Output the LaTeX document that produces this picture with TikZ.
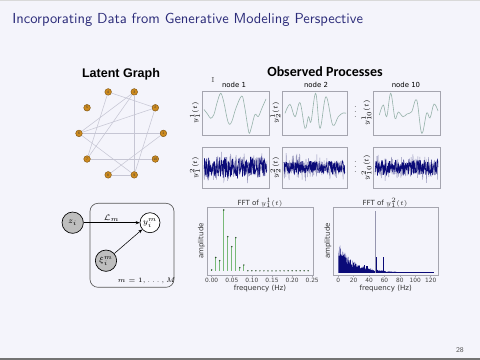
\documentclass[tikz,border=0pt]{standalone}
\usepackage{fontspec}
\usepackage{amsmath}
\newfontfamily\djv{DejaVu Sans}
\newfontfamily\lib{Liberation Sans}
\newfontfamily\carl{Carlito}
\usetikzlibrary{arrows.meta}
\definecolor{bg}{RGB}{244,244,251}
\definecolor{ttl}{RGB}{44,44,122}
\definecolor{gnode}{RGB}{205,138,30}
\definecolor{gnodeb}{RGB}{120,80,15}
\definecolor{gedge}{RGB}{198,198,212}
\definecolor{sig}{RGB}{150,178,170}
\definecolor{navy}{RGB}{10,10,120}
\definecolor{lnoise}{RGB}{150,150,188}
\definecolor{axc}{RGB}{165,165,175}
\definecolor{stemc}{RGB}{120,185,120}
\definecolor{mkc}{RGB}{40,80,40}
\definecolor{platef}{RGB}{190,190,190}
\definecolor{spk}{RGB}{150,150,175}
\begin{document}
\begin{tikzpicture}[x=0.75pt,y=-0.75pt,
 gn/.style={circle,fill=gnode,draw=gnodeb,line width=0.3pt,inner sep=0pt,minimum size=5pt,font=\fontsize{2.6}{2.6}\selectfont\lib,text=black!75},
 ge/.style={draw=gedge,line width=0.4pt},
 pbox/.style={draw=axc,line width=0.4pt},
 sigl/.style={draw=sig,line width=0.45pt},
 ylab/.style={rotate=90,font=\fontsize{5.2}{6}\selectfont,inner sep=0pt},
 toplab/.style={font=\fontsize{5.2}{6}\selectfont\djv,inner sep=0pt},
 ticklab/.style={font=\fontsize{4.4}{5}\selectfont\djv,inner sep=0pt,text=black!75},
 axlab/.style={font=\fontsize{5.3}{6}\selectfont\djv,inner sep=0pt,text=black!80},
 pl/.style={circle,draw=black,line width=0.5pt,minimum size=16pt,inner sep=0pt,font=\fontsize{6.3}{7}\selectfont},
 arr/.style={-{Stealth[length=3pt,width=2.4pt]},line width=0.4pt},
 ]
\useasboundingbox (0,0) rectangle (480,360);
\fill[bg] (0,0) rectangle (480,360);
\draw[black!15,line width=0.6pt] (0,0.4) -- (480,0.4);
\fill[black!55] (0,358) rectangle (480,360);

% title
\node[anchor=base west,inner sep=0pt,text=ttl,font=\fontsize{10.9}{13}\selectfont\sffamily] (title) at (12,24) {Incorporating Data from Generative Modeling Perspective};

% ---------- Latent graph
\node[font=\fontsize{9.4}{11}\selectfont\lib\bfseries,inner sep=0pt] (lg) at (121,74) {Latent Graph};
\foreach \i/\a in {1/0,2/36,3/72,4/108,5/144,6/180,7/216,8/252,9/288,10/324}{
  \node[gn] (g\i) at ({121.2+42.2*cos(\a)},{133.4-43.6*sin(\a)}) {\i};
}
\foreach \a/\b in {4/2,3/6,3/7,3/9,4/7,2/6,2/9,6/1,6/9,7/10,8/9,1/8}{
  \draw[ge] (g\a) -- (g\b);
}

% ---------- Observed processes
\node[font=\fontsize{10.5}{12}\selectfont\carl\bfseries,inner sep=0pt] (op) at (325,72) {Observed Processes};
\node[font=\fontsize{5.5}{6}\selectfont,inner sep=0pt,text=black!70] (cur) at (213,80) {I};
\node[toplab] (n1) at (234,85) {node 1};
\node[toplab] (n2) at (316,85) {node 2};
\node[toplab] (n10) at (406,85) {node 10};

% boxes row 1
\draw[pbox] (202,91) rectangle (269,135);
\draw[pbox] (282,91) rectangle (347,135);
\draw[pbox] (373,91) rectangle (440,135);
% boxes row 2
\draw[pbox] (202,147) rectangle (269,188);
\draw[pbox] (282,147) rectangle (347,188);
\draw[pbox] (373,147) rectangle (440,188);

% y labels
\node[ylab] (l11) at (195,113) {$y_1^1(t)$};
\node[ylab] (l21) at (275.5,113) {$y_2^1(t)$};
\node[ylab] (l101) at (366.5,113) {$y_{10}^1(t)$};
\node[ylab] (l12) at (195,167.5) {$y_1^2(t)$};
\node[ylab] (l22) at (275.5,167.5) {$y_2^2(t)$};
\node[ylab] (l102) at (366.5,167.5) {$y_{10}^2(t)$};
\node[inner sep=0pt,font=\fontsize{5.5}{6}\selectfont] (d1) at (355.5,108) {$\vdots$};
\node[inner sep=0pt,font=\fontsize{5.5}{6}\selectfont] (d2) at (355.5,163) {$\vdots$};

% smooth signals
\draw[sigl] plot[smooth,tension=0.6] coordinates {(204,109.5) (207.5,114) (210.7,118.3) (214,114.3) (217,103) (220.7,93.3) (224,103) (227,118) (229.3,124.3) (232,121) (236,108) (241.7,96) (244.5,106) (247.5,125) (249.3,133.3) (251.5,127) (255,114.5) (258.3,116.5) (262,108) (266,99)};
\draw[sigl] plot[smooth,tension=0.6] coordinates {(285,113.3) (290,104.3) (295,116.7) (300,102.7) (305,128.3) (308.5,116.7) (311,121.7) (315.7,93.3) (320,128.3) (326,96.7) (332.7,125) (338.3,116.7) (343,113) (346,113.3)};
\draw[sigl] plot[smooth,tension=0.6] coordinates {(379.3,115) (383.3,105) (386.7,116.7) (390.7,93.3) (395,118.3) (398.3,112) (403,116.7) (407,114) (411.7,111.7) (416.7,100) (421.7,133.3) (426.7,113) (430,118) (434,104) (438,111)};

% noisy signals
\pgfmathsetseed{7}
\draw[lnoise,line width=0.35pt] plot[domain=204:267,samples=230] (\x,{167.5+17*rand*abs(rand)});
\draw[navy,line width=0.4pt] plot[domain=204:267,samples=230] (\x,{167.5+10.5*rand});
\pgfmathsetseed{21}
\draw[lnoise,line width=0.35pt] plot[domain=284:345,samples=220] (\x,{167.5+16*rand*abs(rand)});
\draw[navy,line width=0.4pt] plot[domain=284:345,samples=220] (\x,{167.5+6.5*rand});
\pgfmathsetseed{33}
\draw[lnoise,line width=0.35pt] plot[domain=375:438,samples=230] (\x,{167.5+16*rand*abs(rand)});
\draw[navy,line width=0.4pt] plot[domain=375:438,samples=230] (\x,{167.5+8*rand});

% ---------- Plate diagram
\draw[black!65,line width=0.5pt,rounded corners=6pt] (90,203.3) rectangle (174,287.3);
\node[pl,fill=platef] (z) at (72.7,222.7) {$z_i$};
\node[pl,fill=white,minimum size=15pt] (y) at (150,222.7) {$y_i^m$};
\node[pl,fill=platef] (xi) at (106,260.7) {$\xi_i^m$};
\draw[arr] (z) -- node[above=0.5pt,inner sep=0pt,font=\fontsize{6.5}{7}\selectfont] (lm) {$\mathcal{L}_m$} (y);
\draw[arr] (xi) -- (y);
\node[inner sep=0pt,font=\fontsize{5.4}{6}\selectfont] (mm) at (146.5,280.5) {$m=1,\ldots,M$};

% ---------- FFT 1
\draw[pbox] (207.3,207.3) rectangle (313.3,275);
\node[axlab] (t1) at (260,203) {FFT of $y_1^1(t)$};
\node[axlab,rotate=90] (a1) at (201.5,241) {amplitude};
\foreach \f/\t in {0/0.00,1/0.05,2/0.10,3/0.15,4/0.20,5/0.25}{
  \draw[axc,line width=0.35pt] ({211.7+20.1*\f},275) -- ({211.7+20.1*\f},277);
  \node[ticklab] (tk1\f) at ({211.7+20.1*\f},280.5) {\t};
}
\node[axlab] (x1) at (260,288.7) {frequency (Hz)};
\foreach \k/\h in {0/270,1/257.5,2/260.7,3/210,4/236.7,5/246.7,6/237.7,7/267.7,8/265}{
  \fill[stemc] ({211.7+4.02*\k-0.5},270.8) rectangle ({211.7+4.02*\k+0.5},\h);
  \fill[mkc] ({211.7+4.02*\k},\h) circle (0.6pt);
}
\foreach \k in {9,...,24}{
  \fill[mkc] ({211.7+4.02*\k},270.8) circle (0.55pt);
}

% ---------- FFT 2
\draw[pbox] (333.3,207.3) rectangle (438.3,274.8);
\node[axlab] (t2) at (385,203) {FFT of $y_1^2(t)$};
\node[axlab,rotate=90] (a2) at (328,241) {amplitude};
\foreach \f/\t in {0/0,1/20,2/40,3/60,4/80,5/100,6/120}{
  \draw[axc,line width=0.35pt] ({338.3+15.4*\f},274.8) -- ({338.3+15.4*\f},276.8);
  \node[ticklab] (tk2\f) at ({338.3+15.4*\f},280.5) {\t};
}
\node[axlab] (x2) at (385.7,288.7) {frequency (Hz)};
\pgfmathsetseed{5}
\fill[navy] (338.3,273) -- plot[domain=0:75,samples=200] ({338.3+0.77*\x},{273-(28*exp(-\x/18)+4.5*exp(-\x/50))*(0.7+0.3*rand)}) -- (396,273) -- cycle;
\fill[navy] (364,273) rectangle (365.2,265.5);
\fill[navy] (366.5,273) rectangle (367.7,266.5);
\fill[navy] (376,273) rectangle (377.1,256.7);
\fill[navy] (383,273) rectangle (384.1,256.7);
\fill[spk] (374.7,273) rectangle (375.7,210.7);
\fill[navy] (396,273) rectangle (434.5,272.2);

% page number
\node[inner sep=0pt,font=\fontsize{5.5}{6}\selectfont\sffamily,text=black!70] (pg) at (460,350) {28};
\end{tikzpicture}
\end{document}
